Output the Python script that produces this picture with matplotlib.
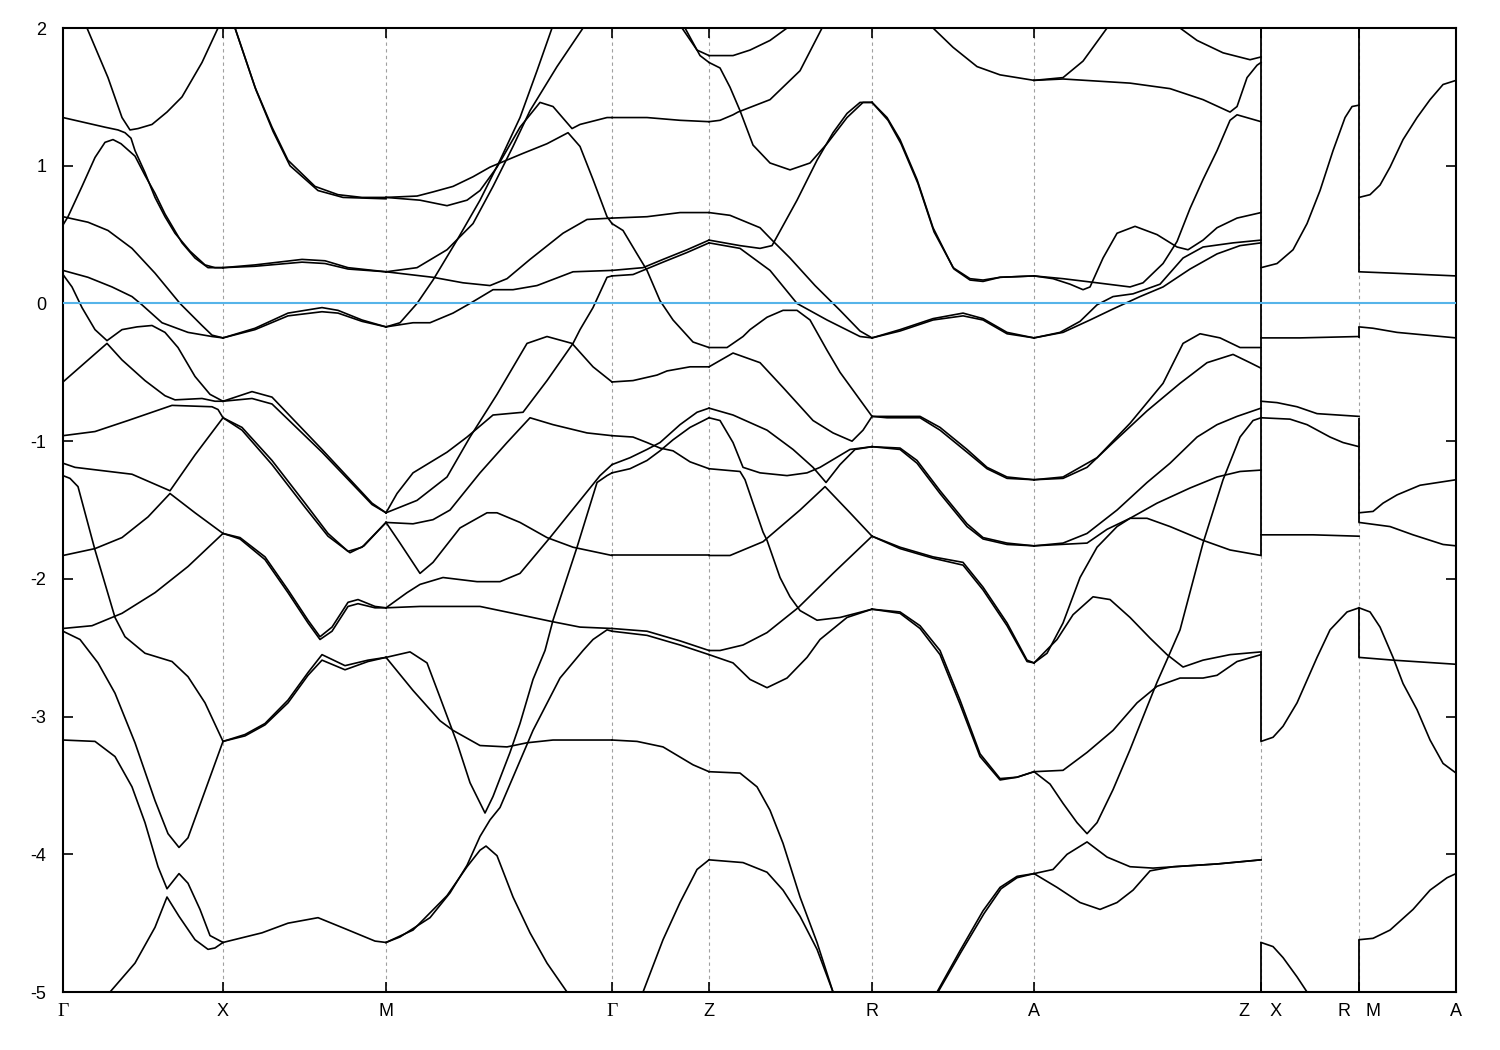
import matplotlib.pyplot as plt

# high-symmetry points along the k-path (path units) and their labels
kpath = [0.0, 1.60, 3.23, 5.49, 6.46, 8.09, 9.71, 11.98, 12.96, 13.93]
klabels = ['Γ', 'X', 'M', 'Γ', 'Z', 'R', 'A', 'Z    X', 'R   M', 'A']
breaks = [11.98, 12.96]          # Z|X and R|M discontinuities
yticks = [-5, -4, -3, -2, -1, 0, 1, 2]
e_fermi = 0.0

# band pieces, grouped by path segment: (k, E [eV])
seg_gamma_x = [
    [(0.0, 2.45), (0.24, 2.0), (0.45, 1.64), (0.59, 1.35), (0.67, 1.26), (0.75, 1.27), (0.89, 1.30), (1.04, 1.39), (1.19, 1.50), (1.39, 1.75), (1.55, 2.0), (1.60, 2.2)],
    [(0.0, 1.35), (0.12, 1.33), (0.42, 1.28), (0.55, 1.26), (0.62, 1.24), (0.68, 1.20), (0.72, 1.11), (0.82, 0.95), (0.92, 0.77), (1.02, 0.63), (1.12, 0.51), (1.27, 0.38), (1.42, 0.28), (1.52, 0.26), (1.60, 0.26)],
    [(0.0, 0.57), (0.05, 0.63), (0.19, 0.85), (0.32, 1.06), (0.42, 1.17), (0.50, 1.19), (0.58, 1.16), (0.72, 1.07), (0.82, 0.93), (0.92, 0.80), (1.02, 0.65), (1.19, 0.44), (1.32, 0.33), (1.45, 0.26), (1.60, 0.26)],
    [(0.0, 0.63), (0.25, 0.59), (0.45, 0.53), (0.69, 0.40), (0.92, 0.22), (1.17, 0.0), (1.39, -0.16), (1.49, -0.23), (1.60, -0.25)],
    [(0.0, 0.24), (0.25, 0.19), (0.49, 0.12), (0.69, 0.05), (0.79, -0.01), (0.99, -0.14), (1.25, -0.21), (1.49, -0.24), (1.60, -0.25)],
    [(0.0, 0.21), (0.09, 0.12), (0.19, -0.03), (0.32, -0.19), (0.44, -0.27), (0.59, -0.19), (0.74, -0.17), (0.89, -0.16), (1.02, -0.21), (1.15, -0.32), (1.32, -0.53), (1.47, -0.66), (1.60, -0.71)],
    [(0.0, -0.57), (0.22, -0.43), (0.44, -0.29), (0.59, -0.41), (0.82, -0.56), (1.02, -0.67), (1.12, -0.70), (1.39, -0.69), (1.52, -0.71), (1.60, -0.71)],
    [(0.0, -0.96), (0.32, -0.93), (0.65, -0.85), (1.09, -0.74), (1.49, -0.75), (1.55, -0.77), (1.60, -0.83)],
    [(0.0, -1.16), (0.12, -1.19), (0.69, -1.24), (1.07, -1.36), (1.32, -1.10), (1.60, -0.83)],
    [(0.0, -1.25), (0.07, -1.27), (0.15, -1.33), (0.32, -1.79), (0.52, -2.28), (0.62, -2.42), (0.82, -2.54), (1.09, -2.60), (1.25, -2.71), (1.42, -2.90), (1.60, -3.18)],
    [(0.0, -1.83), (0.32, -1.78), (0.59, -1.70), (0.85, -1.55), (1.07, -1.38), (1.32, -1.52), (1.60, -1.67)],
    [(0.0, -2.36), (0.29, -2.34), (0.59, -2.25), (0.92, -2.10), (1.25, -1.91), (1.60, -1.67)],
    [(0.0, -2.38), (0.17, -2.44), (0.35, -2.61), (0.52, -2.83), (0.72, -3.19), (0.92, -3.61), (1.05, -3.85), (1.16, -3.95), (1.25, -3.88), (1.42, -3.54), (1.60, -3.18)],
    [(0.0, -3.17), (0.32, -3.18), (0.52, -3.29), (0.69, -3.51), (0.82, -3.77), (0.95, -4.09), (1.04, -4.25), (1.16, -4.14), (1.25, -4.21), (1.37, -4.40), (1.47, -4.59), (1.60, -4.64)],
    [(0.35, -5.15), (0.47, -5.0), (0.72, -4.79), (0.92, -4.53), (1.04, -4.31), (1.16, -4.45), (1.32, -4.62), (1.45, -4.69), (1.52, -4.68), (1.60, -4.64)],
]

seg_x_m = [
    [(1.60, 2.2), (1.72, 2.0), (1.92, 1.57), (2.09, 1.28), (2.25, 1.04), (2.52, 0.85), (2.75, 0.79), (2.99, 0.77), (3.23, 0.77)],
    [(1.60, 2.2), (1.72, 2.0), (1.93, 1.55), (2.10, 1.25), (2.27, 1.00), (2.55, 0.82), (2.80, 0.77), (3.23, 0.76)],
    [(1.60, 0.26), (1.92, 0.28), (2.39, 0.32), (2.62, 0.31), (2.85, 0.26), (3.23, 0.23)],
    [(1.60, 0.26), (1.92, 0.27), (2.39, 0.30), (2.62, 0.29), (2.85, 0.25), (3.23, 0.23)],
    [(1.60, -0.25), (1.92, -0.18), (2.25, -0.07), (2.59, -0.03), (2.75, -0.05), (2.99, -0.12), (3.23, -0.17)],
    [(1.60, -0.25), (1.92, -0.19), (2.25, -0.09), (2.59, -0.06), (2.75, -0.07), (2.99, -0.13), (3.23, -0.17)],
    [(1.60, -0.71), (1.89, -0.64), (2.09, -0.68), (2.59, -1.06), (3.09, -1.45), (3.23, -1.52)],
    [(1.60, -0.71), (1.89, -0.69), (2.09, -0.73), (2.59, -1.08), (3.09, -1.46), (3.23, -1.52)],
    [(1.60, -0.83), (1.79, -0.90), (2.09, -1.14), (2.42, -1.45), (2.65, -1.67), (2.85, -1.80), (2.99, -1.77), (3.23, -1.59)],
    [(1.60, -0.83), (1.79, -0.92), (2.09, -1.17), (2.42, -1.48), (2.65, -1.69), (2.87, -1.81), (3.01, -1.76), (3.23, -1.59)],
    [(1.60, -1.67), (1.77, -1.70), (2.02, -1.84), (2.25, -2.08), (2.45, -2.30), (2.57, -2.42), (2.69, -2.35), (2.85, -2.17), (2.95, -2.15), (3.12, -2.20), (3.23, -2.21)],
    [(1.60, -1.67), (1.77, -1.71), (2.02, -1.86), (2.25, -2.10), (2.45, -2.32), (2.57, -2.44), (2.69, -2.38), (2.85, -2.20), (2.95, -2.18), (3.12, -2.21), (3.23, -2.21)],
    [(1.60, -3.18), (1.82, -3.13), (2.02, -3.05), (2.25, -2.88), (2.45, -2.68), (2.59, -2.55), (2.82, -2.63), (3.05, -2.59), (3.23, -2.57)],
    [(1.60, -3.18), (1.82, -3.14), (2.02, -3.06), (2.25, -2.90), (2.45, -2.70), (2.59, -2.59), (2.82, -2.66), (3.05, -2.60), (3.23, -2.57)],
    [(1.60, -4.64), (1.99, -4.57), (2.25, -4.50), (2.55, -4.46), (2.82, -4.54), (3.12, -4.63), (3.23, -4.64)],
]

seg_m_gamma = [
    [(3.23, -0.17), (3.37, -0.14), (3.54, 0.0), (3.70, 0.17), (3.94, 0.46), (4.17, 0.75), (4.37, 1.04), (4.57, 1.35), (4.74, 1.69), (4.89, 2.0), (4.97, 2.17)],
    [(3.23, -0.17), (3.50, -0.14), (3.67, -0.14), (3.90, -0.07), (4.07, 0.0), (4.30, 0.10), (4.50, 0.10), (4.74, 0.13), (5.10, 0.23), (5.49, 0.24)],
    [(3.23, 0.23), (3.70, 0.19), (4.00, 0.15), (4.27, 0.13), (4.44, 0.18), (4.67, 0.32), (5.00, 0.51), (5.24, 0.61), (5.49, 0.62)],
    [(3.23, 0.23), (3.54, 0.26), (3.84, 0.39), (4.10, 0.58), (4.30, 0.85), (4.50, 1.14), (4.67, 1.40), (4.94, 1.72), (5.20, 2.0), (5.32, 2.13)],
    [(3.23, 0.77), (3.54, 0.78), (3.70, 0.81), (3.90, 0.85), (4.10, 0.92), (4.27, 0.99), (4.60, 1.09), (4.84, 1.16), (5.05, 1.24), (5.17, 1.14), (5.30, 0.90), (5.44, 0.63), (5.49, 0.58)],
    [(3.23, 0.77), (3.57, 0.75), (3.84, 0.71), (4.04, 0.75), (4.17, 0.82), (4.34, 0.99), (4.57, 1.28), (4.77, 1.46), (4.90, 1.43), (5.09, 1.27), (5.17, 1.30), (5.44, 1.35), (5.49, 1.35)],
    [(3.23, -1.52), (3.34, -1.38), (3.50, -1.23), (3.84, -1.08), (4.04, -0.97), (4.30, -0.81), (4.60, -0.79), (4.84, -0.56), (5.10, -0.29), (5.17, -0.19), (5.30, -0.03), (5.44, 0.19), (5.49, 0.20)],
    [(3.23, -1.52), (3.54, -1.43), (3.84, -1.26), (4.07, -0.97), (4.34, -0.66), (4.64, -0.29), (4.84, -0.24), (5.09, -0.29), (5.30, -0.46), (5.49, -0.57)],
    [(3.23, -1.59), (3.50, -1.60), (3.70, -1.57), (3.87, -1.50), (4.17, -1.23), (4.44, -1.01), (4.67, -0.83), (4.90, -0.88), (5.24, -0.94), (5.49, -0.96)],
    [(3.23, -1.59), (3.37, -1.74), (3.57, -1.96), (3.70, -1.88), (3.97, -1.63), (4.24, -1.52), (4.34, -1.52), (4.57, -1.59), (4.84, -1.70), (5.10, -1.77), (5.49, -1.83)],
    [(3.23, -2.21), (3.57, -2.20), (3.84, -2.20), (4.17, -2.20), (4.50, -2.25), (4.89, -2.31), (5.17, -2.35), (5.49, -2.36)],
    [(3.23, -2.21), (3.44, -2.10), (3.57, -2.04), (3.80, -1.99), (4.14, -2.02), (4.37, -2.02), (4.57, -1.96), (4.87, -1.70), (5.17, -1.43), (5.37, -1.25), (5.49, -1.17)],
    [(3.23, -2.57), (3.47, -2.53), (3.64, -2.61), (3.77, -2.86), (3.94, -3.19), (4.07, -3.48), (4.22, -3.70), (4.30, -3.58), (4.47, -3.26), (4.57, -3.05), (4.70, -2.73), (4.82, -2.52), (4.90, -2.30), (5.14, -1.77), (5.34, -1.30), (5.44, -1.25), (5.49, -1.23)],
    [(3.23, -2.57), (3.50, -2.81), (3.77, -3.03), (3.90, -3.10), (4.17, -3.21), (4.44, -3.22), (4.64, -3.19), (4.90, -3.17), (5.49, -3.17)],
    [(3.23, -4.64), (3.37, -4.60), (3.67, -4.46), (3.87, -4.28), (4.04, -4.08), (4.17, -3.87), (4.27, -3.75), (4.37, -3.66), (4.50, -3.44), (4.70, -3.10), (4.97, -2.72), (5.20, -2.52), (5.30, -2.44), (5.44, -2.37), (5.49, -2.38)],
    [(3.23, -4.64), (3.50, -4.55), (3.84, -4.30), (4.04, -4.09), (4.17, -3.97), (4.23, -3.94), (4.34, -4.01), (4.50, -4.31), (4.67, -4.57), (4.84, -4.79), (5.04, -5.0), (5.15, -5.12)],
]

seg_gamma_z = [
    [(5.49, 1.35), (5.84, 1.35), (6.17, 1.33), (6.46, 1.32)],
    [(5.49, 0.62), (5.84, 0.63), (6.17, 0.66), (6.46, 0.66)],
    [(5.49, 0.58), (5.60, 0.53), (5.74, 0.36), (5.84, 0.24), (5.97, 0.02), (6.10, -0.12), (6.30, -0.28), (6.46, -0.32)],
    [(5.49, 0.24), (5.80, 0.26), (6.00, 0.32), (6.24, 0.39), (6.46, 0.46)],
    [(5.49, 0.20), (5.70, 0.21), (5.80, 0.24), (6.00, 0.30), (6.24, 0.37), (6.46, 0.44)],
    [(5.49, -0.57), (5.70, -0.56), (5.94, -0.52), (6.04, -0.49), (6.27, -0.46), (6.46, -0.46)],
    [(5.49, -0.96), (5.70, -0.97), (5.84, -1.01), (5.97, -1.05), (6.10, -1.07), (6.27, -1.15), (6.46, -1.20)],
    [(5.49, -1.17), (5.67, -1.12), (5.84, -1.06), (5.97, -1.01), (6.17, -0.88), (6.34, -0.79), (6.46, -0.76)],
    [(5.49, -1.23), (5.67, -1.20), (5.84, -1.14), (5.97, -1.07), (6.10, -0.99), (6.27, -0.90), (6.46, -0.83)],
    [(5.49, -1.83), (5.97, -1.83), (6.46, -1.83)],
    [(5.49, -2.36), (5.84, -2.38), (6.17, -2.45), (6.46, -2.52)],
    [(5.49, -2.38), (5.84, -2.41), (6.17, -2.48), (6.46, -2.55)],
    [(5.49, -3.17), (5.74, -3.18), (6.00, -3.22), (6.30, -3.35), (6.46, -3.40)],
    [(5.75, -5.1), (5.80, -5.0), (6.00, -4.62), (6.17, -4.35), (6.34, -4.11), (6.46, -4.04)],
    [(6.14, 2.1), (6.19, 2.0), (6.34, 1.84), (6.46, 1.80)],
    [(6.17, 2.1), (6.22, 2.0), (6.37, 1.80), (6.46, 1.75)],
]

seg_z_r = [
    [(6.46, 1.80), (6.70, 1.80), (6.87, 1.84), (7.07, 1.91), (7.24, 2.0), (7.35, 2.08)],
    [(6.46, 1.75), (6.57, 1.71), (6.67, 1.57), (6.77, 1.40), (6.90, 1.15), (7.07, 1.02), (7.27, 0.97), (7.47, 1.02), (7.64, 1.16), (7.84, 1.35), (8.00, 1.46), (8.09, 1.46)],
    [(6.46, 1.32), (6.57, 1.33), (6.70, 1.37), (6.75, 1.39), (7.07, 1.48), (7.37, 1.69), (7.59, 2.0), (7.70, 2.15)],
    [(6.46, 0.66), (6.67, 0.64), (6.97, 0.55), (7.09, 0.46), (7.27, 0.33), (7.52, 0.13), (7.77, -0.05), (7.97, -0.20), (8.09, -0.25)],
    [(6.46, 0.46), (6.77, 0.42), (6.97, 0.40), (7.09, 0.42), (7.34, 0.75), (7.54, 1.04), (7.70, 1.24), (7.84, 1.38), (7.97, 1.46), (8.09, 1.46)],
    [(6.46, 0.44), (6.77, 0.40), (7.07, 0.24), (7.34, 0.00), (7.64, -0.12), (7.97, -0.24), (8.09, -0.25)],
    [(6.46, -0.32), (6.64, -0.32), (6.80, -0.24), (6.87, -0.19), (7.04, -0.10), (7.20, -0.05), (7.34, -0.05), (7.47, -0.12), (7.64, -0.34), (7.77, -0.50), (8.09, -0.82)],
    [(6.46, -0.46), (6.70, -0.36), (6.97, -0.43), (7.20, -0.61), (7.50, -0.85), (7.70, -0.94), (7.89, -1.00), (8.00, -0.92), (8.09, -0.82)],
    [(6.46, -0.76), (6.70, -0.81), (7.04, -0.92), (7.30, -1.06), (7.50, -1.19), (7.63, -1.30), (7.77, -1.17), (7.92, -1.06), (8.09, -1.04)],
    [(6.46, -0.83), (6.57, -0.85), (6.70, -1.01), (6.80, -1.19), (6.97, -1.23), (7.24, -1.25), (7.44, -1.23), (7.57, -1.19), (7.87, -1.06), (8.09, -1.04)],
    [(6.46, -1.20), (6.77, -1.22), (6.82, -1.28), (6.90, -1.45), (7.00, -1.66), (7.04, -1.72), (7.17, -1.99), (7.27, -2.13), (7.37, -2.23), (7.54, -2.30), (7.77, -2.28), (8.09, -2.22)],
    [(6.46, -1.83), (6.67, -1.83), (7.00, -1.73), (7.37, -1.50), (7.62, -1.33), (7.87, -1.52), (8.09, -1.69)],
    [(6.46, -2.52), (6.57, -2.52), (6.80, -2.48), (7.04, -2.39), (7.35, -2.21), (7.70, -1.96), (8.09, -1.69)],
    [(6.46, -2.55), (6.70, -2.61), (6.87, -2.73), (7.04, -2.79), (7.24, -2.72), (7.44, -2.57), (7.57, -2.44), (7.84, -2.28), (8.09, -2.22)],
    [(6.46, -3.40), (6.77, -3.41), (6.94, -3.51), (7.07, -3.68), (7.20, -3.92), (7.37, -4.31), (7.54, -4.64), (7.70, -5.0), (7.75, -5.1)],
    [(6.46, -4.04), (6.80, -4.06), (7.04, -4.13), (7.20, -4.26), (7.37, -4.45), (7.54, -4.69), (7.70, -5.0), (7.75, -5.08)],
]

seg_r_a = [
    [(8.62, 2.1), (8.70, 2.0), (8.90, 1.86), (9.14, 1.72), (9.37, 1.66), (9.71, 1.62)],
    [(8.09, 1.46), (8.24, 1.35), (8.37, 1.19), (8.54, 0.90), (8.70, 0.55), (8.90, 0.26), (9.07, 0.18), (9.20, 0.17), (9.37, 0.19), (9.71, 0.20)],
    [(8.09, 1.46), (8.25, 1.33), (8.38, 1.16), (8.55, 0.87), (8.71, 0.52), (8.91, 0.25), (9.07, 0.17), (9.20, 0.16), (9.37, 0.19), (9.71, 0.20)],
    [(8.09, -0.25), (8.37, -0.19), (8.70, -0.11), (9.00, -0.07), (9.20, -0.11), (9.44, -0.21), (9.71, -0.25)],
    [(8.09, -0.25), (8.37, -0.20), (8.70, -0.12), (9.00, -0.09), (9.20, -0.12), (9.44, -0.22), (9.71, -0.25)],
    [(8.09, -0.82), (8.24, -0.82), (8.57, -0.82), (8.77, -0.90), (9.04, -1.06), (9.24, -1.19), (9.44, -1.26), (9.71, -1.28)],
    [(8.09, -0.82), (8.24, -0.83), (8.57, -0.83), (8.77, -0.92), (9.04, -1.08), (9.24, -1.20), (9.44, -1.27), (9.71, -1.28)],
    [(8.09, -1.04), (8.37, -1.05), (8.54, -1.14), (8.77, -1.36), (9.04, -1.60), (9.20, -1.70), (9.44, -1.74), (9.71, -1.76)],
    [(8.09, -1.04), (8.37, -1.06), (8.54, -1.16), (8.77, -1.38), (9.04, -1.62), (9.20, -1.71), (9.44, -1.75), (9.71, -1.76)],
    [(8.09, -1.69), (8.37, -1.77), (8.70, -1.84), (9.00, -1.88), (9.20, -2.06), (9.44, -2.32), (9.64, -2.59), (9.71, -2.61)],
    [(8.09, -1.69), (8.37, -1.78), (8.70, -1.85), (9.00, -1.90), (9.20, -2.08), (9.44, -2.34), (9.64, -2.60), (9.71, -2.61)],
    [(8.09, -2.22), (8.37, -2.24), (8.57, -2.34), (8.77, -2.52), (8.97, -2.88), (9.17, -3.27), (9.37, -3.45), (9.54, -3.44), (9.71, -3.40)],
    [(8.09, -2.22), (8.37, -2.25), (8.57, -2.36), (8.77, -2.55), (8.97, -2.91), (9.17, -3.29), (9.37, -3.46), (9.54, -3.44), (9.71, -3.40)],
    [(8.65, -5.1), (8.74, -5.0), (8.97, -4.70), (9.20, -4.41), (9.37, -4.24), (9.54, -4.16), (9.71, -4.14)],
    [(8.66, -5.1), (8.75, -5.0), (8.98, -4.71), (9.21, -4.43), (9.38, -4.25), (9.54, -4.17), (9.71, -4.14)],
]

seg_a_z = [
    [(9.71, 1.62), (10.00, 1.64), (10.20, 1.76), (10.44, 2.0), (10.55, 2.1)],
    [(9.71, 1.62), (10.00, 1.63), (10.67, 1.60), (11.07, 1.56), (11.40, 1.48), (11.67, 1.39), (11.74, 1.43), (11.84, 1.64), (11.94, 1.73), (11.98, 1.75)],
    [(11.10, 2.1), (11.17, 2.0), (11.34, 1.91), (11.60, 1.82), (11.87, 1.77), (11.98, 1.79)],
    [(9.71, 0.20), (10.00, 0.18), (10.34, 0.15), (10.67, 0.12), (10.80, 0.15), (11.00, 0.29), (11.14, 0.45), (11.27, 0.69), (11.40, 0.90), (11.54, 1.11), (11.67, 1.33), (11.74, 1.37), (11.98, 1.32)],
    [(9.71, 0.20), (9.90, 0.18), (10.07, 0.14), (10.20, 0.10), (10.27, 0.12), (10.40, 0.33), (10.54, 0.51), (10.72, 0.56), (10.94, 0.50), (11.14, 0.41), (11.25, 0.39), (11.40, 0.46), (11.54, 0.55), (11.74, 0.62), (11.98, 0.66)],
    [(9.71, -0.25), (9.97, -0.21), (10.17, -0.13), (10.34, -0.01), (10.50, 0.05), (10.70, 0.07), (10.97, 0.14), (11.20, 0.33), (11.40, 0.41), (11.70, 0.44), (11.98, 0.46)],
    [(9.71, -0.25), (10.00, -0.21), (10.27, -0.12), (10.50, -0.04), (10.77, 0.05), (11.00, 0.12), (11.27, 0.25), (11.54, 0.36), (11.77, 0.42), (11.98, 0.44)],
    [(9.71, -1.28), (10.00, -1.26), (10.34, -1.12), (10.67, -0.87), (11.00, -0.58), (11.20, -0.29), (11.37, -0.22), (11.57, -0.25), (11.77, -0.32), (11.98, -0.32)],
    [(9.71, -1.28), (10.00, -1.27), (10.24, -1.19), (10.50, -1.01), (10.84, -0.78), (11.17, -0.58), (11.44, -0.43), (11.70, -0.37), (11.87, -0.43), (11.98, -0.47)],
    [(9.71, -1.76), (10.00, -1.74), (10.24, -1.67), (10.54, -1.50), (10.84, -1.30), (11.07, -1.16), (11.34, -0.97), (11.54, -0.88), (11.74, -0.82), (11.98, -0.76)],
    [(9.71, -1.76), (10.24, -1.74), (10.44, -1.64), (10.67, -1.56), (10.94, -1.45), (11.27, -1.34), (11.54, -1.26), (11.77, -1.22), (11.98, -1.21)],
    [(9.71, -2.61), (9.84, -2.54), (10.00, -2.32), (10.17, -1.99), (10.34, -1.77), (10.54, -1.62), (10.67, -1.56), (10.84, -1.56), (11.07, -1.62), (11.40, -1.72), (11.67, -1.79), (11.98, -1.83)],
    [(9.71, -2.61), (9.94, -2.44), (10.10, -2.26), (10.30, -2.13), (10.47, -2.15), (10.67, -2.28), (10.87, -2.43), (11.04, -2.55), (11.20, -2.64), (11.40, -2.59), (11.67, -2.55), (11.98, -2.53)],
    [(9.71, -3.40), (10.00, -3.39), (10.24, -3.26), (10.50, -3.10), (10.74, -2.90), (10.94, -2.78), (11.17, -2.72), (11.40, -2.72), (11.54, -2.70), (11.74, -2.60), (11.98, -2.55)],
    [(9.71, -3.40), (9.87, -3.49), (10.00, -3.63), (10.14, -3.77), (10.24, -3.85), (10.34, -3.77), (10.50, -3.53), (10.67, -3.24), (10.84, -2.93), (10.94, -2.75), (11.05, -2.57), (11.17, -2.37), (11.40, -1.74), (11.60, -1.28), (11.77, -0.97), (11.90, -0.85), (11.98, -0.83)],
    [(9.71, -4.14), (9.90, -4.11), (10.04, -4.00), (10.24, -3.91), (10.44, -4.02), (10.67, -4.09), (10.90, -4.10), (11.54, -4.07), (11.98, -4.04)],
    [(9.71, -4.14), (9.94, -4.24), (10.17, -4.35), (10.37, -4.40), (10.54, -4.35), (10.70, -4.26), (10.87, -4.12), (11.10, -4.09), (11.54, -4.07), (11.98, -4.04)],
]

seg_x_r = [
    [(11.98, 0.26), (12.14, 0.29), (12.30, 0.39), (12.44, 0.58), (12.57, 0.82), (12.70, 1.11), (12.82, 1.35), (12.89, 1.43), (12.96, 1.44)],
    [(11.98, -0.25), (12.37, -0.25), (12.96, -0.24)],
    [(11.98, -0.71), (12.14, -0.72), (12.34, -0.75), (12.54, -0.80), (12.96, -0.82)],
    [(11.98, -0.83), (12.27, -0.84), (12.44, -0.88), (12.67, -0.97), (12.80, -1.01), (12.96, -1.04)],
    [(11.98, -1.68), (12.50, -1.68), (12.96, -1.69)],
    [(11.98, -3.18), (12.10, -3.15), (12.20, -3.07), (12.34, -2.90), (12.54, -2.57), (12.67, -2.37), (12.84, -2.24), (12.96, -2.21)],
    [(11.98, -4.64), (12.10, -4.67), (12.20, -4.75), (12.34, -4.89), (12.44, -5.0), (12.50, -5.08)],
]

seg_m_a = [
    [(12.96, 0.77), (13.07, 0.79), (13.17, 0.86), (13.27, 0.99), (13.40, 1.19), (13.54, 1.35), (13.67, 1.48), (13.80, 1.59), (13.93, 1.62)],
    [(12.96, 0.23), (13.30, 0.22), (13.93, 0.20)],
    [(12.96, -0.17), (13.10, -0.18), (13.34, -0.21), (13.93, -0.25)],
    [(12.96, -1.52), (13.10, -1.51), (13.20, -1.45), (13.34, -1.39), (13.57, -1.32), (13.93, -1.28)],
    [(12.96, -1.59), (13.27, -1.62), (13.50, -1.68), (13.80, -1.75), (13.93, -1.76)],
    [(12.96, -2.21), (13.07, -2.24), (13.17, -2.35), (13.30, -2.57), (13.40, -2.76), (13.54, -2.95), (13.67, -3.17), (13.80, -3.34), (13.93, -3.41)],
    [(12.96, -2.57), (13.30, -2.59), (13.93, -2.62)],
    [(12.96, -4.62), (13.10, -4.61), (13.27, -4.55), (13.50, -4.40), (13.67, -4.26), (13.84, -4.17), (13.93, -4.14)],
]

# vertical jumps of the bands at the two path breaks: (E_low, E_high)
jumps_zx = [(-5.2, -4.64), (-3.18, -2.53), (-1.83, 2.2)]
jumps_rm = [(0.23, 2.2), (-0.25, -0.17), (-1.59, -0.83), (-2.57, -2.21), (-5.2, -4.62)]

plt.rcParams['font.family'] = ['Liberation Sans', 'DejaVu Sans']

fig = plt.figure(figsize=(15, 10.5), dpi=100)
ax = fig.add_axes([0.042, 0.0552, 0.9287, 0.9181])

for k in kpath[1:-1]:
    ax.axvline(k, color='#a0a0a0', lw=0.8, ls=(0, (3, 3)), zorder=0)

for seg in [seg_gamma_x, seg_x_m, seg_m_gamma, seg_gamma_z, seg_z_r,
            seg_r_a, seg_a_z, seg_x_r, seg_m_a]:
    for band in seg:
        ks, es = zip(*band)
        ax.plot(ks, es, color='black', lw=1.2, zorder=2, solid_joinstyle='round')

for kb, jumps in zip(breaks, [jumps_zx, jumps_rm]):
    for lo, hi in jumps:
        ax.vlines(kb, lo, hi, color='black', lw=1.3, zorder=2)

ax.axhline(e_fermi, color='#56b4e9', lw=1.5, zorder=3)

ax.set_xlim(kpath[0], kpath[-1])
ax.set_ylim(-5, 2)
ax.set_xticks(kpath)
ax.set_xticklabels(klabels)
ax.set_yticks(yticks)
ax.set_yticklabels([str(v) for v in yticks])
ax.tick_params(axis='both', direction='in', length=7, width=1.2,
               top=True, right=True, labelsize=13)
ax.tick_params(axis='x', pad=8)
ax.tick_params(axis='y', pad=12)
for lab in ax.get_xticklabels():
    if lab.get_text() == 'Γ':
        lab.set_fontfamily('Liberation Serif')
        lab.set_fontsize(14)
for sp in ax.spines.values():
    sp.set_linewidth(1.5)

fig.savefig('out.png', dpi=100)
